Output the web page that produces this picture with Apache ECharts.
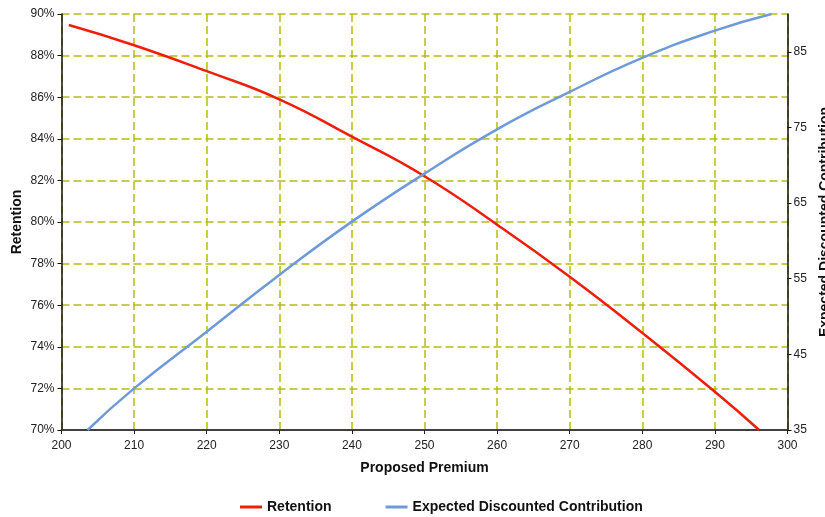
<!DOCTYPE html>
<html>
<head>
<meta charset="utf-8">
<script src="https://cdn.jsdelivr.net/npm/echarts@6/dist/echarts.min.js"></script>
<style>html,body{margin:0;padding:0;background:#fff;}#chart{width:825px;height:517px;}</style>
</head>
<body>
<div id="chart"></div>
<script>
// Data
const premium = [201, 210, 220, 230, 240, 250, 260, 270, 280, 290, 296.1];
const retention = [89.47, 88.5, 87.25, 85.9, 84.1, 82.2, 79.87, 77.37, 74.67, 71.84, 70.0];
const premiumEDC = [203.6, 210, 220, 230, 240, 250, 260, 270, 280, 290, 297.8];
const edc = [35.0, 40.5, 48.0, 55.5, 62.55, 68.9, 74.75, 79.7, 84.2, 87.8, 90.0];
const seriesNames = ['Retention', 'Expected Discounted Contribution'];

const font = 'Liberation Sans, Arial, sans-serif';
const gridColor = '#b3bd10';
const chart = echarts.init(document.getElementById('chart'));
chart.setOption({
  animation: false,
  textStyle: { fontFamily: font },
  grid: { left: 61.5, right: 37.5, top: 14, bottom: 87, containLabel: false, outerBoundsMode: 'none' },
  legend: {
    top: 495, left: 235,
    icon: 'rect', itemWidth: 22, itemHeight: 3, itemGap: 54,
    textStyle: { fontFamily: font, fontSize: 14, fontWeight: 'bold', color: '#111' },
    data: seriesNames
  },
  xAxis: {
    type: 'value', min: 200, max: 300, interval: 10,
    name: 'Proposed Premium', nameLocation: 'middle', nameGap: 31,
    nameTextStyle: { fontFamily: font, fontSize: 14, fontWeight: 'bold', color: '#111' },
    axisLine: { lineStyle: { color: '#404040', width: 2 } },
    axisTick: { show: true, length: 4, lineStyle: { color: '#222' } },
    axisLabel: { fontFamily: font, fontSize: 12, color: '#222', margin: 10 },
    splitLine: { show: true, lineStyle: { color: gridColor, width: 1.5, type: [8, 4] } }
  },
  yAxis: [{
    type: 'value', min: 70, max: 90, interval: 2, position: 'left',
    name: 'Retention', nameLocation: 'middle', nameGap: 37, nameRotate: 90, nameMoveOverlap: false,
    nameTextStyle: { fontFamily: font, fontSize: 14, fontWeight: 'bold', color: '#111' },
    axisLine: { show: true, lineStyle: { color: '#111', width: 1.5 } },
    axisTick: { show: true, length: 4, lineStyle: { color: '#111' } },
    axisLabel: { fontFamily: font, fontSize: 12, color: '#222', margin: 7, formatter: '{value}%' },
    splitLine: { show: true, lineStyle: { color: gridColor, width: 1.5, type: [8, 4] } }
  }, {
    type: 'value', min: 35, max: 90, interval: 10, position: 'right',
    name: 'Expected Discounted Contribution', nameLocation: 'middle', nameGap: 31, nameRotate: 90, nameMoveOverlap: false,
    nameTextStyle: { fontFamily: font, fontSize: 14, fontWeight: 'bold', color: '#111' },
    axisLine: { show: true, lineStyle: { color: '#111', width: 1.5 } },
    axisTick: { show: true, length: 4, lineStyle: { color: '#111' } },
    axisLabel: { fontFamily: font, fontSize: 12, color: '#222', margin: 6, showMaxLabel: false },
    splitLine: { show: false }
  }],
  series: [{
    name: seriesNames[0], type: 'line', yAxisIndex: 0, smooth: 0.5, symbol: 'none',
    lineStyle: { color: '#ee1e0a', width: 2.5 }, itemStyle: { color: '#ee1e0a' },
    data: premium.map((p, i) => [p, retention[i]])
  }, {
    name: seriesNames[1], type: 'line', yAxisIndex: 1, smooth: 0.5, symbol: 'none',
    lineStyle: { color: '#6e9bd8', width: 2.5 }, itemStyle: { color: '#6e9bd8' },
    data: premiumEDC.map((p, i) => [p, edc[i]])
  }]
});
</script>
</body>
</html>
